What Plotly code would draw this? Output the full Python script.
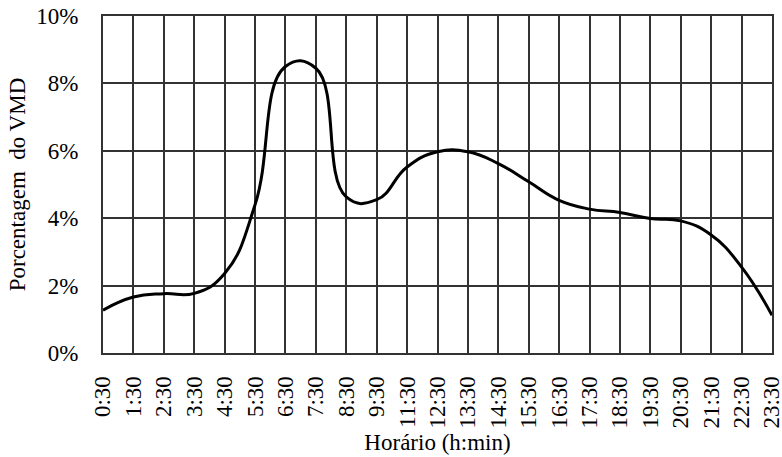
import plotly.graph_objects as go

horarios = ["0:30", "1:30", "2:30", "3:30", "4:30", "5:30", "6:30", "7:30",
            "8:30", "9:30", "11:30", "12:30", "13:30", "14:30", "15:30",
            "16:30", "17:30", "18:30", "19:30", "20:30", "21:30", "22:30", "23:30"]
percentual_vmd = [1.27, 1.66, 1.76, 1.77, 2.36, 4.4, 8.5, 8.45,
                  4.63, 4.55, 5.52, 5.97, 5.97, 5.62, 5.08,
                  4.53, 4.27, 4.17, 3.99, 3.92, 3.5, 2.55, 1.12]
y_ticks = [0, 2, 4, 6, 8, 10]
y_tick_labels = ["0%", "2%", "4%", "6%", "8%", "10%"]

FONT = "Liberation Serif"
GRID = "#333333"

fig = go.Figure()
fig.add_trace(go.Scatter(
    x=list(range(len(horarios))), y=percentual_vmd,
    mode="lines",
    line=dict(color="black", width=3, shape="spline", smoothing=1.3),
    showlegend=False, hoverinfo="skip",
))

fig.update_layout(
    width=782, height=457,
    margin=dict(l=103, r=10, t=16, b=104),
    paper_bgcolor="white", plot_bgcolor="white",
    font=dict(family=FONT, size=23, color="black"),
)
fig.update_xaxes(
    range=[0, len(horarios) - 1], automargin=False,
    tickmode="array", tickvals=list(range(len(horarios))), ticktext=horarios,
    tickangle=-90, ticklabeloverflow="allow",
    showgrid=True, gridcolor=GRID, gridwidth=2,
    showline=True, linecolor=GRID, linewidth=2, mirror=True,
    zeroline=False, ticks="", ticklabelstandoff=12,
    title=dict(text="Horário (h:min)", font=dict(family=FONT, size=23), standoff=6),
)
fig.update_yaxes(
    range=[0, 10], automargin=False,
    tickmode="array", tickvals=y_ticks, ticktext=y_tick_labels,
    ticklabeloverflow="allow",
    showgrid=True, gridcolor=GRID, gridwidth=2,
    showline=True, linecolor=GRID, linewidth=2, mirror=True,
    zeroline=False, ticks="", ticklabelstandoff=18,
    title=dict(text="Porcentagem  do VMD", font=dict(family=FONT, size=23), standoff=4),
)

fig.write_html(
    "out.html",
    config={"displayModeBar": False, "staticPlot": True},
    post_script="document.body.style.margin='0';document.body.style.overflow='hidden';",
)
